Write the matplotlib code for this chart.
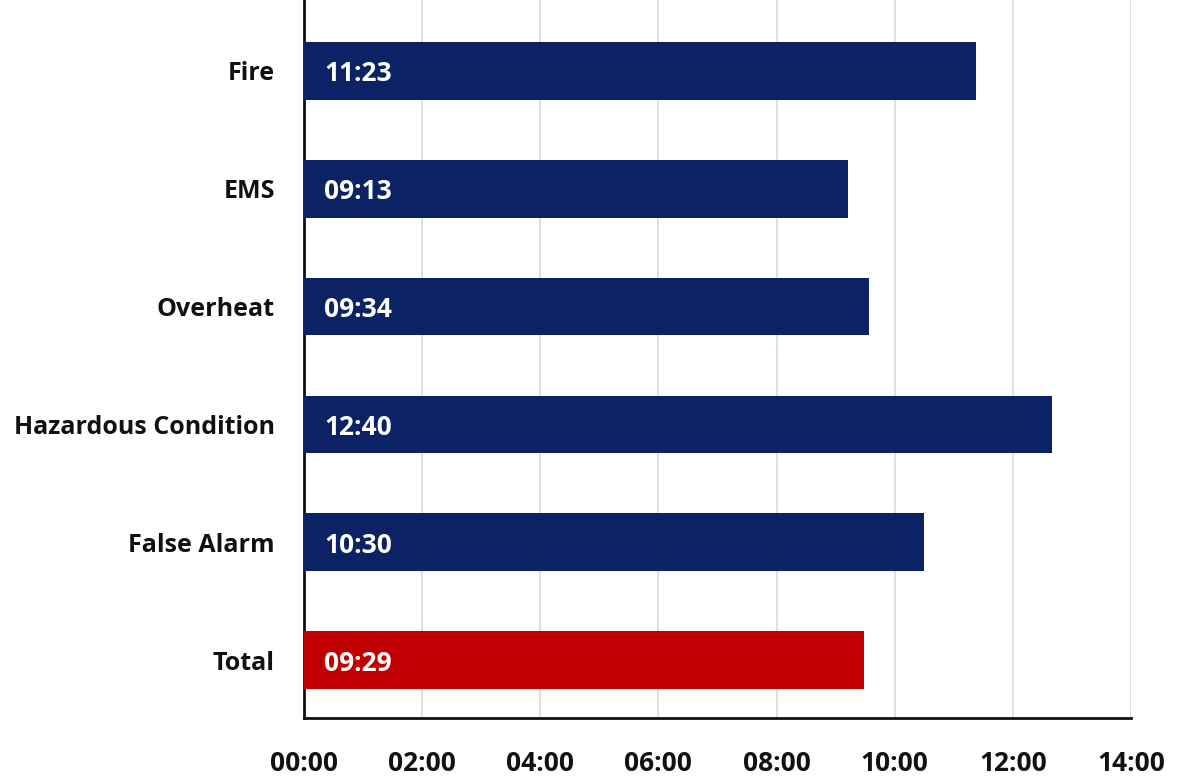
import matplotlib
matplotlib.use("Agg")
import matplotlib.pyplot as plt
from matplotlib.ticker import FuncFormatter, MultipleLocator
from matplotlib import font_manager

categories = ["Fire", "EMS", "Overheat", "Hazardous Condition", "False Alarm", "Total"]
times = ["11:23", "09:13", "09:34", "12:40", "10:30", "09:29"]
bar_colors = ["#0B2265", "#0B2265", "#0B2265", "#0B2265", "#0B2265", "#C00000"]


def to_minutes(s):
    m, sec = s.split(":")
    return int(m) + int(sec) / 60.0


values = [to_minutes(t) for t in times]

available = {f.name for f in font_manager.fontManager.ttflist}
family = [f for f in ["Liberation Sans Narrow", "Open Sans", "DejaVu Sans"] if f in available]
plt.rcParams["font.family"] = family

fig = plt.figure(figsize=(11.92, 7.77), dpi=100)
ax = fig.add_axes([304 / 1192, 1 - 718 / 777, (1131 - 304) / 1192, 718 / 777])

n = len(categories)
ypos = [n - 1 - i for i in range(n)]
ax.barh(ypos, values, height=0.49, color=bar_colors, zorder=3)

for y, v, t in zip(ypos, values, times):
    ax.annotate(t, xy=(0, y), xytext=(14.5, -2), textcoords="offset points",
                ha="left", va="center", color="white", fontsize=19,
                fontweight="bold", zorder=4)

ax.set_xlim(0, 14)
ax.set_ylim(-0.49, n - 1 + 0.6)
ax.xaxis.set_major_locator(MultipleLocator(2))
ax.xaxis.set_major_formatter(
    FuncFormatter(lambda x, _: f"{int(round(x)):02d}:00"))
ax.set_yticks(ypos)
ax.set_yticklabels(categories)

ax.grid(axis="x", color="#D9D9D9", linewidth=1.2, zorder=0)
ax.tick_params(axis="both", length=0)
ax.tick_params(axis="x", pad=23, labelsize=19)
ax.tick_params(axis="y", pad=21, labelsize=18)
for lab in ax.get_xticklabels() + ax.get_yticklabels():
    lab.set_fontweight("bold")
    lab.set_color("#111111")

for side in ["top", "right"]:
    ax.spines[side].set_visible(False)
for side in ["left", "bottom"]:
    ax.spines[side].set_linewidth(2)
    ax.spines[side].set_color("#111111")

fig.savefig("out.png", dpi=100, facecolor="white")
